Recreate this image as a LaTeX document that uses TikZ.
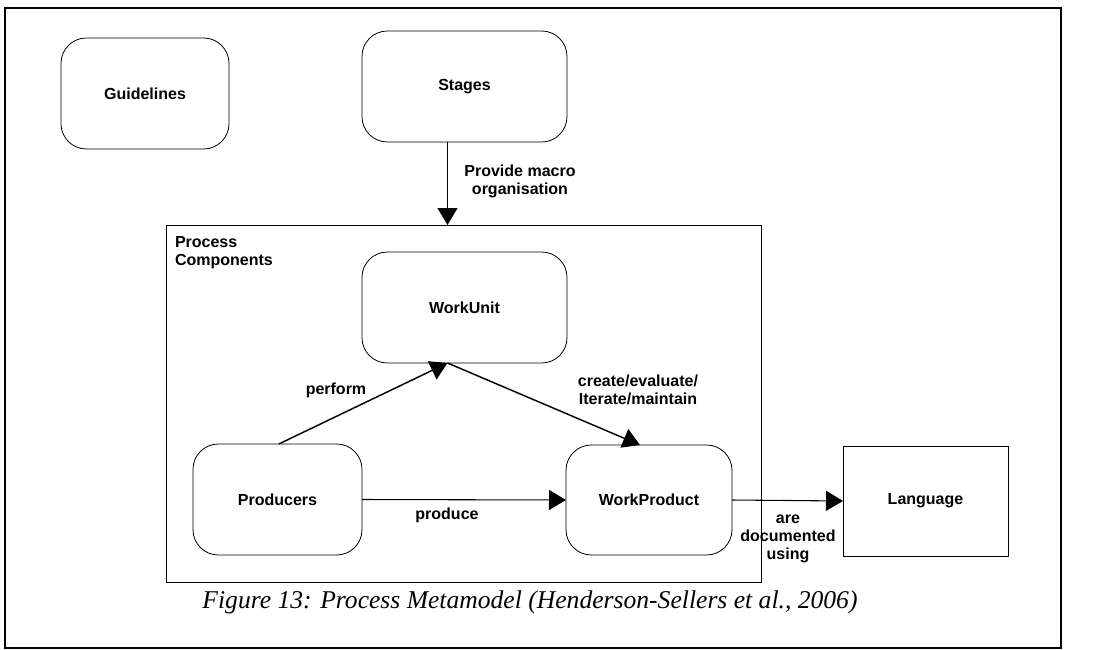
\documentclass[tikz,border=0pt]{standalone}
\usepackage{fontspec}
\setmainfont{Liberation Serif}
\setsansfont{Liberation Sans}
\usetikzlibrary{arrows.meta}
\begin{document}
\begin{tikzpicture}[x=0.75pt,y=-0.75pt,
  every node/.style={inner sep=0pt, outer sep=0pt},
  concept/.style={draw, line width=0.6pt, rounded corners=19pt, minimum height=83.25pt,
    font=\sffamily\bfseries\fontsize{12}{13.5}\selectfont},
  plainbox/.style={draw, line width=0.6pt, minimum height=82.5pt,
    font=\sffamily\bfseries\fontsize{12}{13.5}\selectfont},
  lbl/.style={font=\sffamily\bfseries\fontsize{12}{13.5}\selectfont, align=center},
  link/.style={line width=1.1pt, -{Triangle[length=12.75pt,width=15pt]}},
  thinlink/.style={line width=0.8pt, -{Triangle[length=12.75pt,width=15pt]}}]
\useasboundingbox (0,0) rectangle (1108,650);
% outer frame
\draw[line width=1.6pt] (5,8) rectangle (1061,648);

% process components container
\node[draw, line width=0.6pt, minimum width=446.25pt, minimum height=267.75pt] (pc) at (463.5,403.5) {};
\node[lbl, align=left, anchor=north west] (pclabel) at (175,236) {Process\\Components};

% concepts
\node[concept, minimum width=126pt] (guide) at (145,93.5) {Guidelines};
\node[concept, minimum width=153.75pt] (stages) at (464.5,86.5) {Stages};
\node[concept, minimum width=153.75pt] (wu) at (464.5,307.5) {WorkUnit};
\node[concept, minimum width=126.75pt, minimum height=83.25pt] (prod) at (277.5,499.5) {Producers};
\node[concept, minimum width=124.5pt, minimum height=82.5pt] (wp) at (649,500) {WorkProduct};
\node[plainbox, minimum width=123.75pt] (lang) at (925.5,501) {Language};

% connectors
\draw[link] ([xshift=-12.75pt]stages.south) -- ([xshift=-12.75pt]stages.south |- pc.north);
\node[lbl] (lmacro) at (520,181) {Provide macro\\organisation};

\draw[link] ([xshift=1pt]prod.north) -- ([xshift=-12.75pt]wu.south);
\node[lbl] (lperform) at (336,390) {perform};

\draw[link] ([xshift=-12.75pt]wu.south) -- ([xshift=-6.75pt]wp.north);
\node[lbl] (lcreate) at (638,390) {create/evaluate/\\Iterate/maintain};

\draw[thinlink] (prod.east) -- (wp.west);
\node[lbl] (lproduce) at (447,515) {produce};

\draw[thinlink] (wp.east) -- (lang.west);
\node[lbl] (ldoc) at (788,539) {are\\documented\\using};

% caption
\node[font=\itshape\fontsize{19.2}{22}\selectfont] (caption) at (530,602) {Figure 13: Process Metamodel (Henderson-Sellers et al., 2006)};
\end{tikzpicture}
\end{document}
